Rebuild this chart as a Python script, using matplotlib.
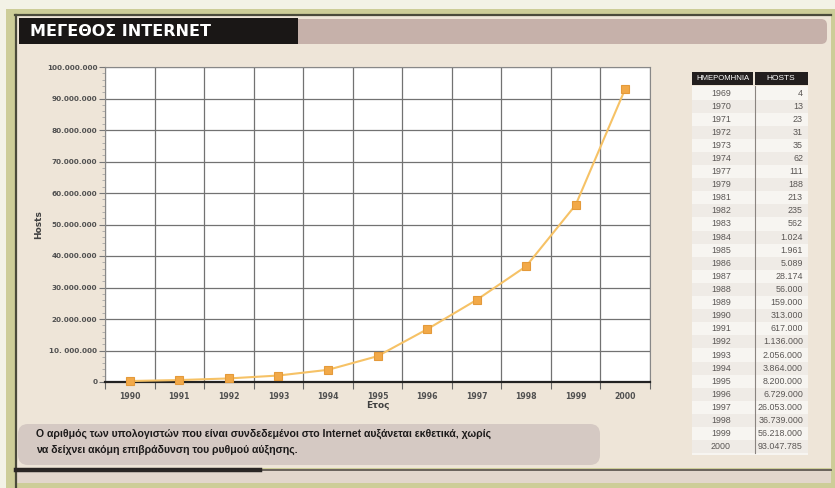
import matplotlib
matplotlib.use("Agg")
import matplotlib.pyplot as plt
from matplotlib.patches import Rectangle, FancyBboxPatch
from matplotlib.ticker import MultipleLocator, FixedLocator

# ---------------- data ----------------
years = [1990, 1991, 1992, 1993, 1994, 1995, 1996, 1997, 1998, 1999, 2000]
hosts = [313000, 617000, 1136000, 2056000, 3864000, 8200000, 16729000,
         26053000, 36739000, 56218000, 93047785]
ytick_values = [0, 10e6, 20e6, 30e6, 40e6, 50e6, 60e6, 70e6, 80e6, 90e6, 100e6]
ytick_labels = ["0", "10. 000.000", "20.000.000", "30.000.000", "40.000.000",
                "50.000.000", "60.000.000", "70.000.000", "80.000.000",
                "90.000.000", "100.000.000"]

table_years = ["1969", "1970", "1971", "1972", "1973", "1974", "1977", "1979",
               "1981", "1982", "1983", "1984", "1985", "1986", "1987", "1988",
               "1989", "1990", "1991", "1992", "1993", "1994", "1995", "1996",
               "1997", "1998", "1999", "2000"]
table_hosts = ["4", "13", "23", "31", "35", "62", "111", "188", "213", "235",
               "562", "1.024", "1.961", "5.089", "28.174", "56.000", "159.000",
               "313.000", "617.000", "1.136.000", "2.056.000", "3.864.000",
               "8.200.000", "6.729.000", "26.053.000", "36.739.000",
               "56.218.000", "93.047.785"]

title = "ΜΕΓΕΘΟΣ INTERNET"
caption1 = "Ο αριθμός των υπολογιστών που είναι συνδεδεμένοι στο Internet αυξάνεται εκθετικά, χωρίς"
caption2 = "να δείχνει ακόμη επιβράδυνση του ρυθμού αύξησης."

W, H = 835, 488
fig = plt.figure(figsize=(W / 100, H / 100), dpi=100)
fig.patch.set_facecolor("#f3f2e6")

# ---------- decoration layer (pixel coords) ----------
bg = fig.add_axes([0, 0, 1, 1])
bg.set_xlim(0, W)
bg.set_ylim(H, 0)
bg.axis("off")

# olive frame
bg.add_patch(Rectangle((6, 9), W - 6, H - 9, facecolor="#cdcd98", edgecolor="none"))
# beige panel
bg.add_patch(Rectangle((15, 15), W - 19, 468 - 15, facecolor="#eee5d8", edgecolor="none"))
bg.add_patch(Rectangle((15, 471), W - 19, 12, facecolor="#e2d6cc", edgecolor="none"))
# dark frame lines
bg.plot([15, W - 4], [15, 15], color="#4a4a3a", lw=1.6)
bg.plot([16, 16], [15, H], color="#4a4a3a", lw=1.6)
bg.plot([16, W - 4], [469.5, 469.5], color="#6a625c", lw=1.4)
bg.plot([16, 260], [469.5, 469.5], color="#2a2624", lw=3.2)
# header bars
bg.add_patch(FancyBboxPatch((280, 19), W - 8 - 280, 25,
                            boxstyle="round,pad=0,rounding_size=6",
                            facecolor="#c6b1aa", edgecolor="none"))
bg.add_patch(Rectangle((19, 18), 279, 26, facecolor="#1a1716", edgecolor="none"))
bg.text(30, 31.5, title, color="white", fontsize=11.5, fontweight="bold",
        family="DejaVu Sans", va="center", ha="left")

# caption box
bg.add_patch(FancyBboxPatch((18, 424), 582, 41,
                            boxstyle="round,pad=0,rounding_size=10",
                            facecolor="#d5c9c3", edgecolor="none"))
bg.text(36, 434, caption1, fontsize=7.6, fontweight="bold", color="#1c1a1a",
        family="Liberation Sans", va="center", ha="left")
bg.text(36, 450, caption2, fontsize=7.6, fontweight="bold", color="#1c1a1a",
        family="Liberation Sans", va="center", ha="left")

# ---------- table ----------
row0, rowh = 93, 13.1
bg.add_patch(Rectangle((692, 86), 116, rowh * len(table_years) + 2,
                       facecolor="#f7f5f1", edgecolor="none"))
for i in range(len(table_years)):
    if i % 2 == 1:
        bg.add_patch(Rectangle((692, row0 + i * rowh - rowh / 2), 116, rowh,
                               facecolor="#efebe6", edgecolor="none"))
bg.add_patch(Rectangle((692, 72), 61, 13, facecolor="#221e1e", edgecolor="none"))
bg.add_patch(Rectangle((755, 72), 53, 13, facecolor="#221e1e", edgecolor="none"))
bg.plot([754.5, 754.5], [86, row0 + rowh * (len(table_years) - 0.5)],
        color="#8a8480", lw=0.8)
tfam = ["Liberation Sans Narrow", "Liberation Sans"]
bg.text(722.5, 78.5, "ΗΜΕΡΟΜΗΝΙΑ", color="white", fontsize=5.6, family=tfam,
        ha="center", va="center")
bg.text(781, 78.5, "HOSTS", color="white", fontsize=6.0, family=tfam,
        ha="center", va="center")
for i, (yr, hv) in enumerate(zip(table_years, table_hosts)):
    y = row0 + i * rowh
    bg.text(721, y, yr, fontsize=6.4, color="#5a5654", family=tfam,
            ha="center", va="center")
    bg.text(803, y, hv, fontsize=6.4, color="#5a5654", family=tfam,
            ha="right", va="center")

# ---------- chart ----------
x0, x1, ytop, ybot = 105, 650, 67, 382
ax = fig.add_axes([x0 / W, 1 - ybot / H, (x1 - x0) / W, (ybot - ytop) / H])
ax.set_facecolor("white")
ax.set_xlim(1989.5, 2000.5)
ax.set_ylim(0, 100e6)

ax.xaxis.set_major_locator(FixedLocator(years))
ax.xaxis.set_minor_locator(FixedLocator([y + 0.5 for y in [1989] + years]))
ax.set_xticklabels([str(y) for y in years])
ax.yaxis.set_major_locator(FixedLocator(ytick_values))
ax.set_yticklabels(ytick_labels)
ax.yaxis.set_minor_locator(MultipleLocator(2e6))

ax.grid(True, which="major", axis="y", color="#727272", lw=0.9)
ax.grid(True, which="minor", axis="x", color="#727272", lw=0.9)
ax.set_axisbelow(True)

ax.tick_params(axis="x", which="major", length=0, pad=7, labelsize=5.6,
               labelcolor="#505050")
ax.tick_params(axis="x", which="minor", length=5, width=0.8, color="#666666",
               direction="out")
ax.tick_params(axis="y", which="major", length=4, width=0.8, color="#777777",
               pad=1.5, labelsize=5.2, labelcolor="#505050")
ax.tick_params(axis="y", which="minor", length=2, width=0.5, color="#999999")
for lab in ax.get_xticklabels() + ax.get_yticklabels():
    lab.set_fontweight("bold")

for s in ["top", "right"]:
    ax.spines[s].set_color("#888888")
    ax.spines[s].set_linewidth(0.8)
ax.spines["left"].set_color("#888888")
ax.spines["left"].set_linewidth(0.8)
ax.spines["bottom"].set_color("#222222")
ax.spines["bottom"].set_linewidth(1.6)

ax.plot(years, hosts, color="#f6c266", lw=1.5, marker="s", markersize=5.5,
        markerfacecolor="#f2a948", markeredgecolor="#e49a3a",
        markeredgewidth=0.8, zorder=5, clip_on=False)

ax.set_ylabel("Hosts", fontsize=6.5, fontweight="bold", color="#404040",
              labelpad=3)
ax.set_xlabel("Ετος", fontsize=6.5, fontweight="bold", color="#404040",
              labelpad=0)

fig.savefig("out.png", dpi=100, facecolor=fig.get_facecolor())
